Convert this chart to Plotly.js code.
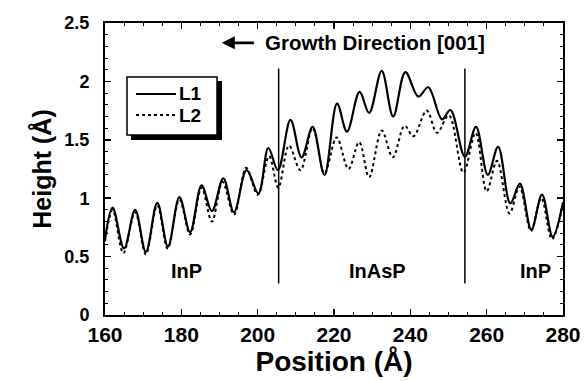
<!DOCTYPE html>
<html><head><meta charset="utf-8">
<script src="https://cdn.plot.ly/plotly-3.0.1.min.js"></script>
<style>html,body{margin:0;padding:0;background:#fff}#chart{width:587px;height:381px}</style>
</head><body><div id="chart"></div>
<script>
// Data
var l1X = [160, 162.0, 165.0, 167.9, 170.7, 173.7, 176.5, 179.5, 182.3, 185.3, 188.0, 191.0, 193.8, 197.1, 200.2, 202.8, 205.3, 208.6, 211.5, 214.4, 217.5, 220.8, 223.4, 226.7, 229.2, 232.5, 235.5, 238.7, 242.1, 244.7, 248.3, 250.5, 254.3, 257.2, 260.3, 263.0, 266.2, 268.7, 271.7, 274.5, 277.3, 280.0];
var l1Y = [0.65, 0.92, 0.57, 0.90, 0.54, 0.96, 0.585, 1.01, 0.71, 1.11, 0.89, 1.17, 0.88, 1.24, 1.04, 1.43, 1.24, 1.67, 1.35, 1.61, 1.20, 1.81, 1.57, 1.91, 1.73, 2.09, 1.70, 2.08, 1.87, 1.95, 1.675, 1.755, 1.355, 1.61, 1.20, 1.44, 0.955, 1.125, 0.73, 1.03, 0.67, 0.965];
var l2X = [160, 162.0, 164.8, 167.9, 170.7, 173.7, 176.4, 179.5, 182.3, 185.3, 188.0, 190.8, 193.8, 197.0, 200.0, 203.0, 205.4, 208.2, 211.2, 214.4, 217.5, 220.7, 223.8, 226.6, 229.2, 232.5, 235.4, 238.5, 240.8, 244.3, 247.0, 250.1, 253.9, 257.1, 260.0, 262.7, 266.0, 268.6, 271.6, 274.3, 277.1, 280.0];
var l2Y = [0.63, 0.90, 0.53, 0.88, 0.52, 0.94, 0.57, 0.99, 0.69, 1.09, 0.80, 1.14, 0.86, 1.26, 1.03, 1.36, 1.09, 1.45, 1.24, 1.60, 1.21, 1.52, 1.25, 1.48, 1.18, 1.58, 1.35, 1.62, 1.53, 1.75, 1.56, 1.71, 1.22, 1.56, 1.06, 1.32, 0.87, 1.10, 0.72, 1.00, 0.65, 0.95];
var seriesNames = ['L1', 'L2'];
var boundaries = [205.5, 254.3];
var regionLabels = ['InP', 'InAsP', 'InP'];
var regionLabelX = [181.4, 231.4, 272.8];
var xTickVals = [160, 180, 200, 220, 240, 260, 280];
var yTickVals = [0, 0.5, 1, 1.5, 2, 2.5];
var yTickText = ['0', '0.5', '1', '1.5', '2', '2.5'];

var FONT = 'Liberation Sans, Arial, Helvetica, sans-serif';
var BOLD = function (s) { return {family: FONT, size: s, color: '#000', weight: 'bold'}; };
var dashes = ['solid', 'dot'];
var widths = [2.2, 2];

var traces = [l1X, l2X].map(function (xs, i) {
  return {x: xs, y: [l1Y, l2Y][i], name: seriesNames[i], mode: 'lines', showlegend: false,
          line: {color: '#000', width: widths[i], dash: dashes[i], shape: 'spline', smoothing: 1}};
});

// pixel -> paper helpers for the legend box
function px(p) { return (p - 105) / 458; }
function py(p) { return (315 - p) / 292; }

var shapes = boundaries.map(function (b) {
  return {type: 'line', xref: 'x', yref: 'y', x0: b, x1: b, y0: 0.27, y1: 2.11, line: {color: '#000', width: 1.5}};
});
// legend box with drop shadow bars on right and bottom
shapes.push({type: 'rect', xref: 'paper', yref: 'paper', x0: px(127), x1: px(217), y0: py(135), y1: py(77), fillcolor: '#fff', line: {color: '#000', width: 1.5}, layer: 'above'});
shapes.push({type: 'line', xref: 'paper', yref: 'paper', x0: px(219.5), x1: px(219.5), y0: py(139), y1: py(81), line: {color: '#000', width: 5}, layer: 'above'});
shapes.push({type: 'line', xref: 'paper', yref: 'paper', x0: px(131), x1: px(222), y0: py(137.5), y1: py(137.5), line: {color: '#000', width: 5}, layer: 'above'});
var legendY = [py(94), py(115)];
legendY.forEach(function (ly, i) {
  shapes.push({type: 'line', xref: 'paper', yref: 'paper', x0: px(136), x1: px(176), y0: ly, y1: ly, layer: 'above',
               line: {color: '#000', width: widths[i], dash: dashes[i]}});
});

var annotations = regionLabels.map(function (t, i) {
  return {x: regionLabelX[i], y: 0.38, xref: 'x', yref: 'y', text: t, showarrow: false, font: BOLD(20)};
});
seriesNames.forEach(function (n, i) {
  annotations.push({x: px(177), y: legendY[i], xref: 'paper', yref: 'paper', xanchor: 'left', yanchor: 'middle', text: n, showarrow: false, font: BOLD(19)});
});
annotations.push({x: px(263), y: py(42), xref: 'paper', yref: 'paper', text: 'Growth Direction [001]', showarrow: false, font: BOLD(20.5),
                  xanchor: 'left', yanchor: 'middle'});
annotations.push({x: 190.6, y: 2.33, ax: 199.4, ay: 2.33, xref: 'x', yref: 'y', axref: 'x', ayref: 'y', text: '', showarrow: true,
                  arrowhead: 2, arrowsize: 1, arrowwidth: 2.6, arrowcolor: '#000'});

var axisCommon = {
  showgrid: false, zeroline: false, showline: true, linecolor: '#000', linewidth: 2, mirror: 'allticks',
  ticks: 'inside', ticklen: 6, tickwidth: 1.5, tickcolor: '#000'
};

var layout = {
  width: 587, height: 381,
  margin: {l: 105, r: 24, t: 23, b: 66},
  paper_bgcolor: '#fff', plot_bgcolor: '#fff',
  showlegend: false,
  xaxis: Object.assign({}, axisCommon, {
    range: [160, 280], tickvals: xTickVals, tickfont: BOLD(21), ticklabelstandoff: 0,
    minor: {dtick: 5, ticks: 'inside', ticklen: 3, tickwidth: 1, tickcolor: '#000'},
    title: {text: 'Position (Å)', font: BOLD(28), standoff: 1}
  }),
  yaxis: Object.assign({}, axisCommon, {
    range: [0, 2.5], tickvals: yTickVals, ticktext: yTickText, tickfont: BOLD(18), ticklabelstandoff: 10,
    minor: {dtick: 0.1, ticks: 'inside', ticklen: 3, tickwidth: 1, tickcolor: '#000'},
    title: {text: 'Height (Å)', font: BOLD(25), standoff: 6}
  }),
  shapes: shapes,
  annotations: annotations
};

Plotly.newPlot('chart', traces, layout, {staticPlot: true, displayModeBar: false});
</script></body></html>
